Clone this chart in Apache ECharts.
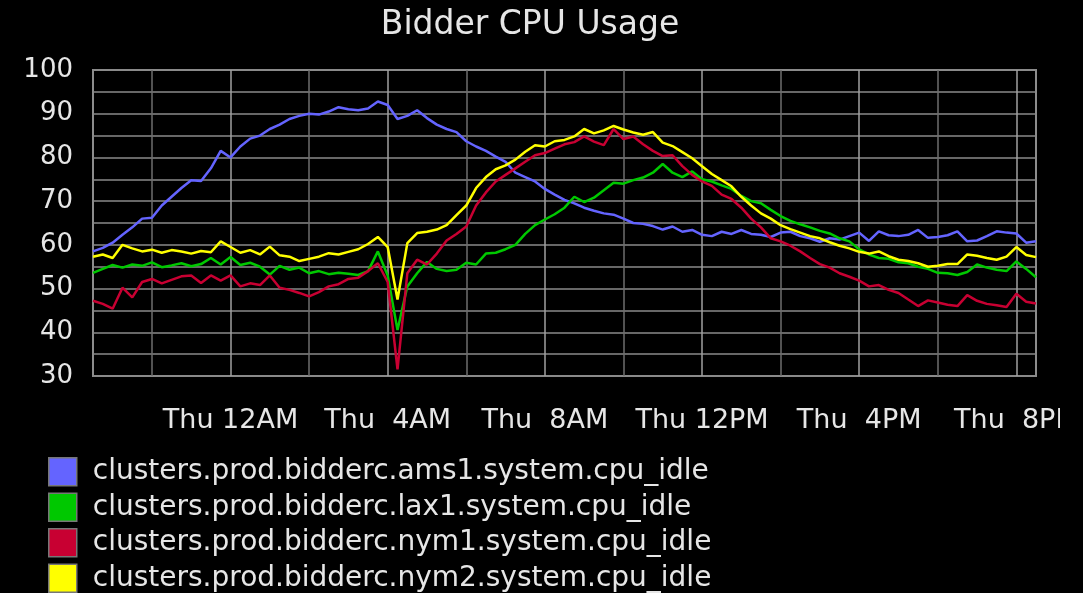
<!DOCTYPE html>
<html>
<head>
<meta charset="utf-8">
<style>
  html, body { margin: 0; padding: 0; background: #000; width: 1083px; height: 593px; overflow: hidden; }
  #chart { width: 1060px; height: 593px; }
</style>
<script src="https://cdn.jsdelivr.net/npm/echarts@6/dist/echarts.min.js"></script>
</head>
<body>
<div id="chart"></div>
<script>
var times = ["20:30","20:45","21:00","21:15","21:30","21:45","22:00","22:15","22:30","22:45","23:00","23:15","23:30","23:45",
  "00:00","00:15","00:30","00:45","01:00","01:15","01:30","01:45","02:00","02:15","02:30","02:45","03:00","03:15","03:30","03:45",
  "04:00","04:15","04:30","04:45","05:00","05:15","05:30","05:45","06:00","06:15","06:30","06:45","07:00","07:15","07:30","07:45",
  "08:00","08:15","08:30","08:45","09:00","09:15","09:30","09:45","10:00","10:15","10:30","10:45","11:00","11:15","11:30","11:45",
  "12:00","12:15","12:30","12:45","13:00","13:15","13:30","13:45","14:00","14:15","14:30","14:45","15:00","15:15","15:30","15:45",
  "16:00","16:15","16:30","16:45","17:00","17:15","17:30","17:45","18:00","18:15","18:30","18:45","19:00","19:15","19:30","19:45",
  "20:00","20:15","20:30"];

var labelTimes = ["00:00","04:00","08:00","12:00","16:00","20:00"];
var labelTexts = ["Thu 12AM","Thu  4AM","Thu  8AM","Thu 12PM","Thu  4PM","Thu  8PM"];
var majorLineTimes = ["00:00","04:00","08:00","12:00","16:00","20:00"];
var minorLineTimes = ["22:00","02:00","06:00","10:00","14:00","18:00"];

var seriesNames = ["clusters.prod.bidderc.ams1.system.cpu_idle","clusters.prod.bidderc.lax1.system.cpu_idle",
  "clusters.prod.bidderc.nym1.system.cpu_idle","clusters.prod.bidderc.nym2.system.cpu_idle"];

var ams1 = [58.5,59.3,60.5,62.3,64.0,66.0,66.2,69.0,71.0,73.0,74.8,74.6,77.5,81.5,
  80.0,82.5,84.3,85.0,86.5,87.5,88.8,89.5,90.0,89.8,90.5,91.5,91.0,90.8,91.2,92.8,
  92.0,88.8,89.5,90.8,89.0,87.5,86.5,85.8,83.7,82.5,81.5,80.2,79.0,76.5,75.5,74.5,
  72.8,71.5,70.3,69.5,68.5,67.8,67.2,66.9,66.0,65.0,64.8,64.3,63.5,64.2,63.0,63.4,
  62.3,62.0,63.0,62.5,63.4,62.5,62.3,61.8,62.8,63.0,62.0,61.5,60.7,61.5,61.2,62.0,
  62.8,60.9,63.1,62.2,62.0,62.3,63.4,61.6,61.8,62.2,63.1,60.8,61.0,62.0,63.1,62.8,
  62.6,60.5,60.8];

var lax1 = [53.6,54.5,55.4,54.8,55.5,55.2,56.0,54.9,55.3,55.8,55.1,55.6,57.0,55.5,
  57.2,55.4,55.9,55.0,53.2,55.2,54.3,54.8,53.5,54.0,53.3,53.6,53.4,53.1,54.0,58.5,
  53.0,40.5,50.5,53.5,56.1,54.5,54.0,54.3,55.9,55.5,58.0,58.2,59.0,60.0,62.5,64.5,
  65.8,67.0,68.5,71.0,69.8,70.8,72.5,74.2,74.0,74.8,75.4,76.5,78.5,76.5,75.5,76.8,
  75.0,74.5,73.6,72.8,71.2,70.0,69.5,68.0,66.6,65.5,64.7,64.0,63.2,62.6,61.5,60.8,
  59.0,57.8,57.0,56.8,56.0,55.8,55.0,54.5,53.6,53.5,53.1,53.8,55.5,54.8,54.3,54.0,
  56.2,54.5,52.6];

var nym1 = [47.2,46.5,45.4,50.2,48.0,51.5,52.2,51.2,52.0,52.8,53.0,51.3,53.0,51.8,
  53.0,50.5,51.2,50.8,53.0,50.2,49.7,49.0,48.2,49.2,50.5,51.0,52.2,52.5,54.0,55.8,
  51.5,31.5,53.5,56.6,55.5,58.0,61.0,62.5,64.2,69.0,72.0,74.5,76.0,77.5,79.0,80.5,
  81.0,82.0,83.0,83.5,84.8,83.6,82.8,86.5,84.2,84.8,83.0,81.5,80.3,80.5,78.0,76.0,
  74.5,73.5,71.5,70.5,68.5,66.0,64.0,61.5,60.8,59.8,58.5,57.0,55.6,54.8,53.5,52.7,
  51.8,50.5,50.8,49.7,49.0,47.5,46.0,47.3,46.8,46.3,46.0,48.5,47.2,46.5,46.2,45.8,
  48.8,47.0,46.6];

var nym2 = [57.3,57.8,57.0,60.0,59.2,58.5,58.9,58.2,58.8,58.5,58.0,58.6,58.3,60.8,
  59.5,58.2,58.8,57.8,59.6,57.6,57.3,56.3,56.8,57.3,58.1,57.8,58.4,59.0,60.2,61.8,
  59.5,47.5,60.4,62.7,63.0,63.5,64.5,66.8,69.0,73.0,75.5,77.3,78.2,79.5,81.3,82.8,
  82.5,83.7,84.0,84.8,86.5,85.5,86.2,87.2,86.4,85.7,85.2,85.8,83.4,82.6,81.2,79.8,
  78.0,76.2,74.8,73.4,71.0,69.0,67.2,66.0,64.5,63.6,62.8,62.0,61.5,60.6,59.8,59.2,
  58.4,58.0,58.5,57.4,56.6,56.3,55.8,55.0,55.2,55.6,55.6,57.8,57.5,57.0,56.6,57.3,
  59.5,57.7,57.2];

var yTicks = [30,40,50,60,70,80,90,100];
var colors = ["#6464ff","#00c800","#c80032","#ffff00"];

var chart = echarts.init(document.getElementById('chart'), null, { renderer: 'canvas' });
var FONT = 'DejaVu Sans';
var seriesData = [ams1, lax1, nym1, nym2];

var option = {
  backgroundColor: '#000',
  animation: false,
  title: {
    text: 'Bidder CPU Usage',
    left: 'center',
    top: 9,
    padding: 0,
    textStyle: { color: '#e6e6e6', fontFamily: FONT, fontSize: 33, fontWeight: 'normal' }
  },
  legend: {
    orient: 'vertical',
    left: 48,
    top: 457,
    padding: 0,
    height: 200,
    itemWidth: 28,
    itemHeight: 28,
    itemGap: 6,
    icon: 'rect',
    itemStyle: { borderColor: '#777', borderWidth: 1.5 },
    textStyle: { color: '#e6e6e6', fontFamily: FONT, fontSize: 28, lineHeight: 28, padding: [0, 0, 0, 11] },
    data: seriesNames
  },
  grid: {
    left: 93, right: 24, top: 70, bottom: 217,
    outerBoundsMode: 'none',
    containLabel: false,
    show: true, borderColor: '#8c8c8c', borderWidth: 2, backgroundColor: '#000'
  },
  xAxis: {
    type: 'category',
    data: times,
    boundaryGap: false,
    axisLine: { show: false },
    axisTick: { show: false },
    axisLabel: {
      interval: function (i, v) { return labelTimes.indexOf(v) >= 0; },
      formatter: function (v) { var k = labelTimes.indexOf(v); return k >= 0 ? labelTexts[k] : ''; },
      color: '#e6e6e6', fontFamily: FONT, fontSize: 27, margin: 31,
      hideOverlap: false
    },
    splitLine: {
      show: true,
      interval: function (i, v) { return majorLineTimes.indexOf(v) >= 0 || minorLineTimes.indexOf(v) >= 0; },
      lineStyle: { color: ['#6e6e6e', '#a0a0a0'], width: 1.5 }
    }
  },
  yAxis: {
    type: 'value',
    min: 30, max: 100, interval: 5,
    axisLine: { show: false },
    axisTick: { show: false },
    axisLabel: {
      formatter: function (v) { return yTicks.indexOf(v) >= 0 ? String(v) : ''; },
      color: '#e6e6e6', fontFamily: FONT, fontSize: 26, margin: 20
    },
    splitLine: { show: true, lineStyle: { color: '#8a8a8a', width: 1.5 } }
  },
  series: seriesNames.map(function (n, k) {
    return {
      name: n, type: 'line', data: seriesData[k], showSymbol: false, symbol: 'none',
      lineStyle: { color: colors[k], width: 2.5 }, itemStyle: { color: colors[k] }
    };
  })
};
chart.setOption(option);
</script>
</body>
</html>
